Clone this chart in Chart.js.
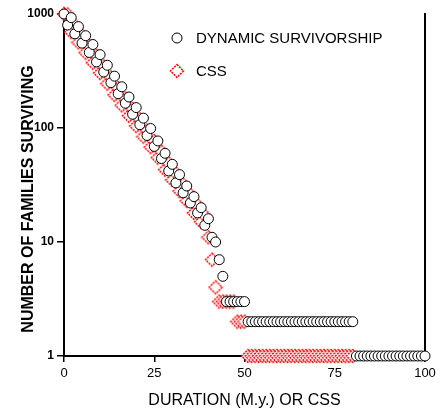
<!DOCTYPE html>
<html>
<head>
<meta charset="utf-8">
<script src="https://cdn.jsdelivr.net/npm/chart.js@4.4.1/dist/chart.umd.min.js"></script>
<style>
html,body{margin:0;padding:0;background:#fff;}
#wrap{width:440px;height:410px;position:relative;}
</style>
</head>
<body>
<div id="wrap"><canvas id="c" width="440" height="410"></canvas></div>
<script>
// ---- data ----
const durations = [0,1,2,3,4,5,6,7,8,9,10,11,12,13,14,15,16,17,18,19,20,21,22,23,24,25,26,27,28,29,30,31,32,33,34,35,36,37,38,39,40,41,42,43,44,45,46,47,48,49,50,51,52,53,54,55,56,57,58,59,60,61,62,63,64,65,66,67,68,69,70,71,72,73,74,75,76,77,78,79,80,81,82,83,84,85,86,87,88,89,90,91,92,93,94,95,96,97,98,99,100];
const dynamicSurvivorship = [1000,800,930,670,775,555,645,460,540,380,440,310,355,250,285,200,230,165,187,132,151,107,122,86,99,69,77,54,60,42,48,33,39,27,31,22,25,18,20,14,16,11,10,7,5,3,3,3,3,3,3,2,2,2,2,2,2,2,2,2,2,2,2,2,2,2,2,2,2,2,2,2,2,2,2,2,2,2,2,2,2,1,1,1,1,1,1,1,1,1,1,1,1,1,1,1,1,1,1,1,1];
const cssSurvivorship = [1000,990,695,795,563,650,458,526,374,431,304,347,245,278,195,224,158,181,128,147,104,119,84,95,68,77,55,62,43,49,35,40,28,32,23,26,18,21,15,17,11,7,4,3,3,3,3,3,2,2,2,1,1,1,1,1,1,1,1,1,1,1,1,1,1,1,1,1,1,1,1,1,1,1,1,1,1,1,1,1,1];
const seriesNames = ['DYNAMIC SURVIVORSHIP', 'CSS'];
const xTicks = [0, 25, 50, 75, 100];
const yTicks = [1, 10, 100, 1000];
const xTitle = 'DURATION (M.y.) OR CSS';
const yTitle = 'NUMBER OF FAMILIES SURVIVING';

// ---- build ----
function pairs(vals){ return vals.map((v,i)=>({x:durations[i], y:v})); }

function makeDiamond(){
  const c = document.createElement('canvas');
  c.width = 16; c.height = 16;
  const g = c.getContext('2d');
  g.beginPath();
  g.moveTo(8,1.5); g.lineTo(14.5,8); g.lineTo(8,14.5); g.lineTo(1.5,8); g.closePath();
  g.fillStyle = '#fff'; g.fill();
  g.setLineDash([2,1]);
  g.strokeStyle = '#ff0000'; g.lineWidth = 1.5; g.stroke();
  return c;
}
const diamond = makeDiamond();
const FONT = "'Liberation Sans', Arial, Helvetica, sans-serif";

const legendPlugin = {
  id: 'customLegend',
  afterDraw(chart){
    const ctx = chart.ctx;
    const items = [
      {ds: chart.data.datasets[0], x: 177, y: 38},
      {ds: chart.data.datasets[1], x: 177, y: 71}
    ];
    ctx.save();
    items.forEach(it => {
      if (it.ds.pointStyle === 'circle') {
        ctx.beginPath(); ctx.arc(it.x, it.y, it.ds.pointRadius, 0, Math.PI*2);
        ctx.fillStyle = '#fff'; ctx.fill();
        ctx.strokeStyle = '#000'; ctx.lineWidth = 1; ctx.stroke();
      } else {
        Chart.helpers.drawPoint(ctx, {
          pointStyle: it.ds.pointStyle, radius: it.ds.pointRadius,
          borderWidth: it.ds.pointBorderWidth, rotation: 0
        }, it.x, it.y);
      }
      ctx.fillStyle = '#000';
      ctx.font = '15px ' + FONT;
      ctx.textBaseline = 'middle';
      ctx.textAlign = 'left';
      ctx.fillText(it.ds.label, 196, it.y + 1);
    });
    // y-axis title
    ctx.translate(29, 199);
    ctx.rotate(-Math.PI/2);
    ctx.font = 'bold 16px ' + FONT;
    ctx.textAlign = 'center';
    ctx.textBaseline = 'middle';
    ctx.fillStyle = '#000';
    ctx.fillText(yTitle, 0, 0);
    ctx.restore();
  }
};

new Chart(document.getElementById('c'), {
  type: 'scatter',
  data: {
    datasets: [
      {
        label: seriesNames[0],
        data: pairs(dynamicSurvivorship),
        pointStyle: 'circle', pointRadius: 5, pointBorderWidth: 1,
        borderColor: '#000', backgroundColor: '#fff',
        pointHoverRadius: 5, clip: false
      },
      {
        label: seriesNames[1],
        data: pairs(cssSurvivorship),
        pointStyle: diamond, pointRadius: 7, pointBorderWidth: 1,
        borderColor: '#ff0000', backgroundColor: '#fff',
        pointHoverRadius: 7, clip: false
      }
    ]
  },
  options: {
    responsive: false,
    animation: false,
    events: [],
    layout: {padding: {top: 14, left: 0, right: 0, bottom: 0}},
    plugins: {legend: {display: false}, tooltip: {enabled: false}},
    scales: {
      x: {
        type: 'linear', min: 0, max: 100,
        afterBuildTicks: s => { s.ticks = xTicks.map(v => ({value: v})); },
        afterFit: s => { s.height = 54; },
        grid: {display: true, drawOnChartArea: false, drawTicks: true, tickLength: 6, color: '#000', lineWidth: 1.5},
        border: {display: true, color: '#000', width: 2},
        ticks: {color: '#000', font: {family: FONT, size: 13}, padding: 4, maxRotation: 0},
        title: {display: true, text: xTitle, color: '#000', font: {family: FONT, size: 16}, padding: {top: 4, bottom: 0}}
      },
      y: {
        type: 'logarithmic', min: 1, max: 1000,
        afterBuildTicks: s => { s.ticks = yTicks.map(v => ({value: v})); },
        afterFit: s => { s.width = 64; },
        grid: {display: true, drawOnChartArea: false, drawTicks: true, tickLength: 7, color: '#000', lineWidth: 1.5},
        border: {display: true, color: '#000', width: 2},
        ticks: {color: '#000', font: {family: FONT, size: 12, weight: 'bold'}, padding: 3,
                callback: v => String(v)}
      },
      y2: {
        type: 'linear', position: 'right', min: 0, max: 1,
        afterFit: s => { s.width = 15; },
        grid: {display: false},
        border: {display: true, color: '#000', width: 2},
        ticks: {display: false}
      }
    }
  },
  plugins: [legendPlugin]
});
</script>
</body>
</html>
